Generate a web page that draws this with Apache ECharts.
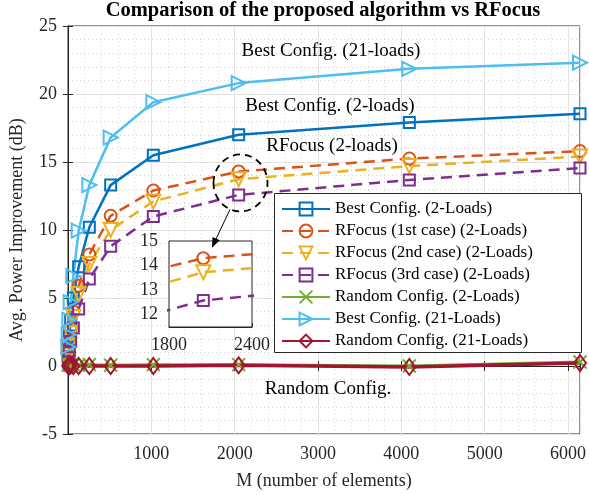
<!DOCTYPE html>
<html>
<head>
<meta charset="utf-8">
<script src="https://cdn.jsdelivr.net/npm/echarts@6/dist/echarts.min.js"></script>
<style>
html, body { margin: 0; padding: 0; background: #fff; }
#chart { width: 589px; height: 495px; }
</style>
</head>
<body>
<div id="chart"></div>
<script>
// number of elements (x values)
const M = [4, 8, 16, 32, 64, 128, 256, 512, 1024, 2048, 4096, 6144];
// avg. power improvement (dB)
const bestTwo = [0.7, 1.3, 2.2, 3.4, 5.0, 7.3, 10.2, 13.3, 15.5, 17.0, 17.9, 18.55];
const rfocusFirst = [0.5, 1.0, 1.7, 2.7, 4.0, 5.9, 8.2, 11.05, 12.9, 14.3, 15.25, 15.8];
const rfocusSecond = [0.4, 0.9, 1.5, 2.4, 3.6, 5.3, 7.5, 10.0, 12.1, 13.73, 14.7, 15.4];
const rfocusThird = [0.3, 0.6, 1.1, 1.8, 2.8, 4.2, 6.4, 8.8, 11.0, 12.58, 13.68, 14.55];
const randomTwo = [0.1, 0.05, 0.1, 0.05, 0.1, 0.05, 0.1, 0.05, 0.1, 0.1, 0.0, 0.3];
const bestTwentyOne = [1.4, 2.3, 3.4, 4.7, 6.6, 9.95, 13.3, 16.8, 19.4, 20.8, 21.85, 22.3];
const randomTwentyOne = [0.0, 0.05, 0.0, 0.05, 0.0, 0.0, 0.0, 0.0, 0.0, 0.05, -0.07, 0.22];

const names = [
  "Best Config. (2-Loads)",
  "RFocus (1st case) (2-Loads)",
  "RFocus (2nd case) (2-Loads)",
  "RFocus (3rd case) (2-Loads)",
  "Random Config. (2-Loads)",
  "Best Config. (21-Loads)",
  "Random Config. (21-Loads)",
];

const FONT = "Liberation Serif";
const INK = "#262626";

const sym = {
  square: "rect",
  circle: "circle",
  down: "path://M0,0L2,0L1,1.732Z",
  cross: "path://M0,0L1,1M1,0L0,1",
  right: "path://M0,0L1.732,1L0,2Z",
  diamond: "diamond",
};

function line(name, vals, color, symbol, size, dashed, width, axis) {
  return {
    name: name,
    type: "line",
    xAxisIndex: axis,
    yAxisIndex: axis,
    data: M.map((m, i) => [m, vals[i]]),
    symbol: symbol,
    symbolSize: size,
    showAllSymbol: true,
    clip: true,
    lineStyle: { color: color, width: width, type: dashed ? [11, 7] : "solid" },
    itemStyle: { color: "rgba(255,255,255,0)", borderColor: color, borderWidth: 2 },
    emphasis: { disabled: true },
  };
}

const plain = (v) => String(v);

const chart = echarts.init(document.getElementById("chart"), null, { renderer: "canvas" });

const minorDots = { show: true, lineStyle: { color: "#d4d4d4", type: [1, 3], width: 1 } };

let option = {
  animation: false,
  textStyle: { fontFamily: FONT },
  grid: [
    { left: 68, top: 26, right: 2.3, bottom: 59, show: true, borderColor: INK, borderWidth: 1 },
    { left: 169, top: 241, width: 83, height: 86, show: true, borderColor: INK, borderWidth: 1, backgroundColor: "#fff", z: 5 },
  ],
  xAxis: [
    {
      gridIndex: 0, type: "value", min: 0, max: 6144, interval: 1000,
      name: "M (number of elements)", nameLocation: "middle", nameGap: 38,
      nameTextStyle: { fontSize: 18, color: INK, fontFamily: FONT },
      axisLine: { lineStyle: { color: INK } },
      axisTick: { inside: true, length: 5, lineStyle: { color: INK } },
      axisLabel: { fontSize: 18, color: INK, margin: 11, showMinLabel: false, showMaxLabel: false, fontFamily: FONT, formatter: plain },
      splitLine: { show: true, lineStyle: { color: "#e3e3e3" } },
      minorTick: { show: true, splitNumber: 5, length: 0, lineStyle: { color: "rgba(0,0,0,0)" } },
      minorSplitLine: minorDots,
    },
    {
      gridIndex: 0, type: "value", position: "top", min: 0, max: 6144, interval: 1000,
      axisLine: { lineStyle: { color: INK } },
      axisTick: { inside: true, length: 5, lineStyle: { color: INK } },
      axisLabel: { show: false }, splitLine: { show: false },
    },
    {
      gridIndex: 1, type: "value", min: 1800, max: 2400, interval: 600,
      axisLine: { lineStyle: { color: INK } },
      axisTick: { inside: true, length: 4, lineStyle: { color: INK } },
      axisLabel: { fontSize: 18, color: INK, margin: 9, fontFamily: FONT, formatter: plain },
      splitLine: { show: false },
    },
  ],
  yAxis: [
    {
      gridIndex: 0, type: "value", min: -5, max: 25, interval: 5,
      name: "Avg. Power Improvement (dB)", nameLocation: "middle", nameGap: 42,
      nameTextStyle: { fontSize: 18, color: INK, fontFamily: FONT },
      axisLine: { lineStyle: { color: INK } },
      axisTick: { inside: true, length: 5, lineStyle: { color: INK } },
      axisLabel: { fontSize: 18, color: INK, margin: 11, fontFamily: FONT },
      splitLine: { show: true, lineStyle: { color: "#e3e3e3" } },
      minorTick: { show: true, splitNumber: 5, length: 0, lineStyle: { color: "rgba(0,0,0,0)" } },
      minorSplitLine: minorDots,
    },
    {
      gridIndex: 0, type: "value", position: "right", min: -5, max: 25, interval: 5,
      axisLine: { lineStyle: { color: INK } },
      axisTick: { inside: true, length: 5, lineStyle: { color: INK } },
      axisLabel: { show: false }, splitLine: { show: false },
    },
    {
      gridIndex: 1, type: "value", min: 11.5, max: 15, splitNumber: 4,
      axisLine: { lineStyle: { color: INK } },
      axisTick: { inside: true, length: 4, lineStyle: { color: INK } },
      axisLabel: { fontSize: 18, color: INK, margin: 11, showMinLabel: false, fontFamily: FONT },
      splitLine: { show: true, lineStyle: { color: "#d9d9d9" } },
    },
  ],
  legend: {
    data: names, orient: "vertical", left: 274, top: 193,
    itemWidth: 48, itemHeight: 16, itemGap: 0,
    padding: [5, 0, 0, 7],
    backgroundColor: "transparent", borderWidth: 0,
    textStyle: { fontFamily: FONT, fontSize: 17, color: "#000", lineHeight: 22 },
    selectedMode: false, z: 20,
  },
  series: [
    line(names[0], bestTwo, "#0072BD", sym.square, 11, false, 2.5, 0),
    line(names[1], rfocusFirst, "#D95319", sym.circle, 12, true, 2.5, 0),
    line(names[2], rfocusSecond, "#EDB120", sym.down, 14, true, 2.5, 0),
    line(names[3], rfocusThird, "#7E2F8E", sym.square, 11, true, 2.5, 0),
    line(names[4], randomTwo, "#77AC30", sym.cross, 13, false, 3, 0),
    line(names[5], bestTwentyOne, "#4DBEEE", sym.right, 14, false, 2.5, 0),
    line(names[6], randomTwentyOne, "#A2142F", sym.diamond, [12, 16], false, 3.5, 0),
    // zoomed inset
    Object.assign(line("inset 1", rfocusFirst, "#D95319", sym.circle, 12, true, 2.5, 2), { z: 6 }),
    Object.assign(line("inset 2", rfocusSecond, "#EDB120", sym.down, 14, true, 2.5, 2), { z: 6 }),
    Object.assign(line("inset 3", rfocusThird, "#7E2F8E", sym.square, 11, true, 2.5, 2), { z: 6 }),
  ],
};
chart.setOption(option);

// annotations
const c = chart.convertToPixel({ xAxisIndex: 0, yAxisIndex: 0 }, [2070, 13.46]);
const rx = 27, ry = 28.5;
const a0 = [c[0] - 10.5, c[1] + ry * 0.93];
const a1 = chart.convertToPixel({ xAxisIndex: 2, yAxisIndex: 2 }, [2110, 14.73]);
const ang = Math.atan2(a1[1] - a0[1], a1[0] - a0[0]);
const hl = 10, hw = 4;
const head = [
  a1,
  [a1[0] - hl * Math.cos(ang) + hw * Math.sin(ang), a1[1] - hl * Math.sin(ang) - hw * Math.cos(ang)],
  [a1[0] - hl * Math.cos(ang) - hw * Math.sin(ang), a1[1] - hl * Math.sin(ang) + hw * Math.cos(ang)],
];

function label(text, x, y, size, weight) {
  return {
    type: "text", z: 30,
    style: {
      text: text, x: x, y: y, fill: "#000",
      font: (weight || "normal") + " " + size + "px '" + FONT + "'",
      align: "center", verticalAlign: "middle",
    },
  };
}

chart.setOption({
  graphic: [
    // legend frame
    {
      type: "rect", z: 10,
      shape: { x: 274.5, y: 193.5, width: 307, height: 159 },
      style: { fill: "#fff", stroke: INK, lineWidth: 1 },
    },
    label("Comparison of the proposed algorithm vs RFocus", 323, 11, 20.5, "bold"),
    label("Best Config. (21-loads)", 331, 51, 19),
    label("Best Config. (2-loads)", 330, 106, 19),
    label("RFocus (2-loads)", 332, 146, 19),
    label("Random Config.", 328, 389, 19),
    {
      type: "ellipse", z: 30,
      shape: { cx: c[0], cy: c[1], rx: rx, ry: ry },
      style: { fill: "none", stroke: "#000", lineWidth: 1.8, lineDash: [7, 5] },
    },
    {
      type: "line", z: 30,
      shape: { x1: a0[0], y1: a0[1], x2: a1[0] - 6 * Math.cos(ang), y2: a1[1] - 6 * Math.sin(ang) },
      style: { stroke: "#000", lineWidth: 1 },
    },
    {
      type: "polygon", z: 30,
      shape: { points: head },
      style: { fill: "#000" },
    },
  ],
});
</script>
</body>
</html>
